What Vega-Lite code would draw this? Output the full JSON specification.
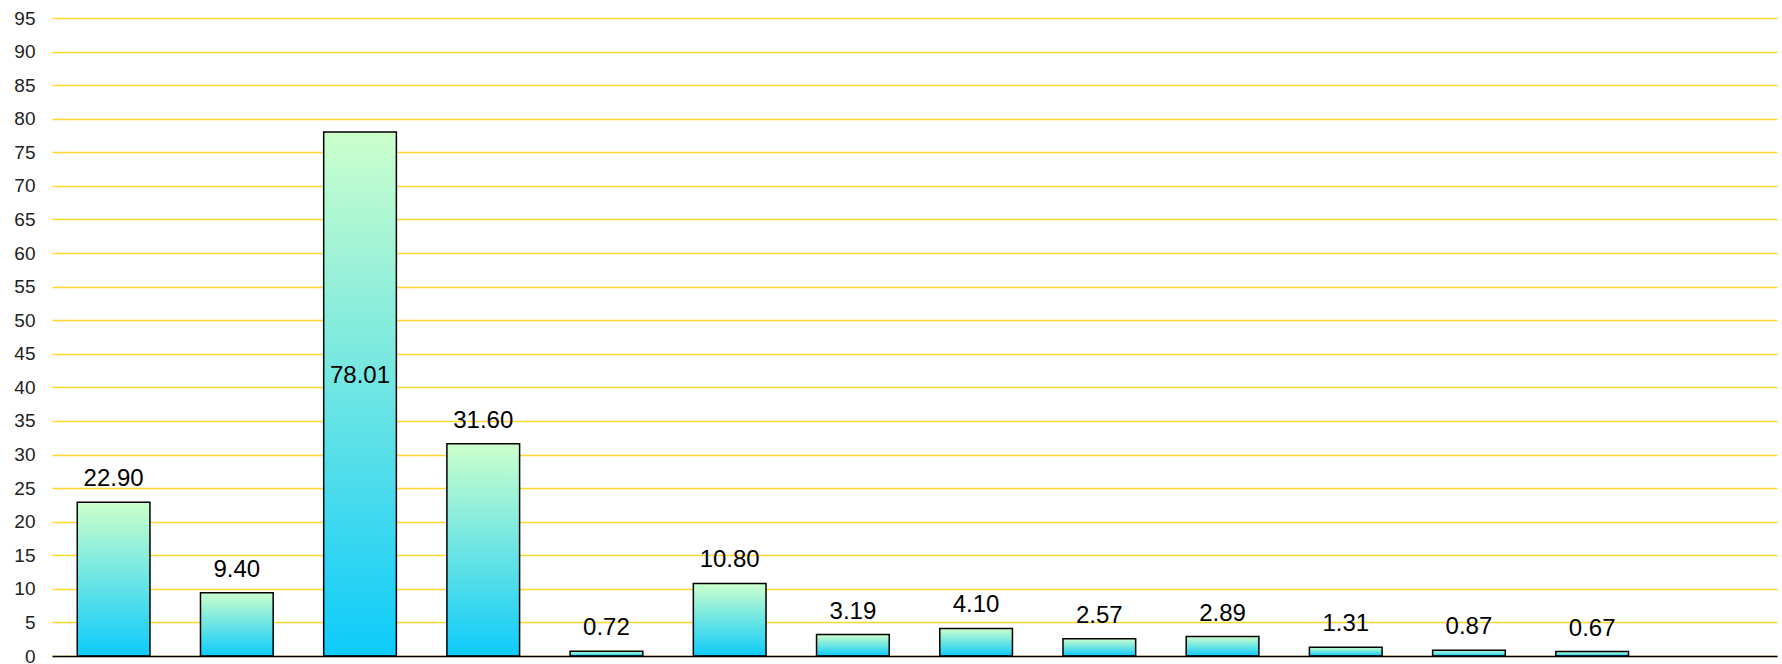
{
  "$schema": "https://vega.github.io/schema/vega-lite/v6.json",
  "width": 1725,
  "height": 638,
  "autosize": {"type": "none"},
  "padding": {"left": 52, "top": 18, "right": 5, "bottom": 8},
  "background": "white",
  "config": {"view": {"stroke": null}},
  "data": {
    "values": [
      {"cat": "c01", "value": 22.90},
      {"cat": "c02", "value": 9.40},
      {"cat": "c03", "value": 78.01},
      {"cat": "c04", "value": 31.60},
      {"cat": "c05", "value": 0.72},
      {"cat": "c06", "value": 10.80},
      {"cat": "c07", "value": 3.19},
      {"cat": "c08", "value": 4.10},
      {"cat": "c09", "value": 2.57},
      {"cat": "c10", "value": 2.89},
      {"cat": "c11", "value": 1.31},
      {"cat": "c12", "value": 0.87},
      {"cat": "c13", "value": 0.67}
    ]
  },
  "encoding": {
    "x": {
      "field": "cat",
      "type": "nominal",
      "sort": null,
      "scale": {
        "domain": ["c01","c02","c03","c04","c05","c06","c07","c08","c09","c10","c11","c12","c13","c14"],
        "paddingInner": 0.41,
        "paddingOuter": 0.205
      },
      "axis": {"labels": false, "ticks": false, "title": null, "domainColor": "#000000", "domainWidth": 1.5, "grid": false, "zindex": 1}
    },
    "y": {
      "field": "value",
      "type": "quantitative",
      "scale": {"domain": [0, 95], "nice": false},
      "axis": {
        "values": [0,5,10,15,20,25,30,35,40,45,50,55,60,65,70,75,80,85,90,95],
        "title": null,
        "domain": false,
        "ticks": false,
        "labelFont": "Liberation Sans",
        "labelFontSize": 19,
        "labelColor": "#222222",
        "labelPadding": 17,
        "gridColor": "#FFD52E",
        "gridWidth": 1.3
      }
    }
  },
  "layer": [
    {
      "mark": {
        "type": "bar",
        "stroke": "#000000",
        "strokeWidth": 1.5,
        "color": {
          "gradient": "linear",
          "x1": 0, "y1": 1, "x2": 0, "y2": 0,
          "stops": [
            {"offset": 0, "color": "#0DCBFB"},
            {"offset": 1, "color": "#CCFFCC"}
          ]
        }
      }
    },
    {
      "transform": [{"filter": "datum.value < 70"}],
      "mark": {"type": "text", "baseline": "alphabetic", "dy": -16, "font": "Liberation Sans", "fontSize": 24, "color": "#000000"},
      "encoding": {"text": {"field": "value", "type": "quantitative", "format": ".2f"}}
    },
    {
      "transform": [{"filter": "datum.value >= 70"}],
      "mark": {"type": "text", "baseline": "alphabetic", "dy": 251, "font": "Liberation Sans", "fontSize": 24, "color": "#000000"},
      "encoding": {"text": {"field": "value", "type": "quantitative", "format": ".2f"}}
    }
  ]
}
